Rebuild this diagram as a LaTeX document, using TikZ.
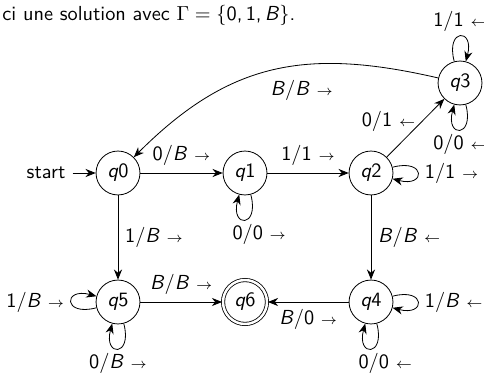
\documentclass[tikz,border=0pt]{standalone}
\renewcommand{\familydefault}{\sfdefault}
\usetikzlibrary{arrows.meta,automata,positioning}
\newcommand{\Bi}{\textit{B}}
\newcommand{\rgt}{$\scriptstyle\rightarrow$}
\newcommand{\lft}{$\scriptstyle\leftarrow$}
\begin{document}
\begin{tikzpicture}[x=0.01731cm,y=0.01731cm,>={Stealth[length=5pt,width=4pt]},
 st/.style={state,draw=black,minimum size=0.76cm,inner sep=0pt,font=\itshape},
 acc/.style={st,accepting,double distance=1.2pt},
 arr/.style={->,draw=black,thin},
 every loop/.style={->,min distance=6mm,looseness=6},
 initial text=start]
\useasboundingbox (0,0) rectangle (484,374);
\node[anchor=west,inner sep=0pt] (title) at (2,359) {ci une solution avec $\Gamma = \{$0,\,1,\,\Bi$\}$.};
\node[st,initial,initial distance=4mm] (q0) at (118,201) {q\textup{0}};
\node[st] (q1) at (245,201) {q\textup{1}};
\node[st] (q2) at (371,201) {q\textup{2}};
\node[st] (q3) at (460,291) {q\textup{3}};
\node[st] (q4) at (371,72) {q\textup{4}};
\node[st] (q5) at (118,72) {q\textup{5}};
\node[acc] (q6) at (245,72) {q\textup{6}};
\draw[arr] (q0) -- node[above] {0/\Bi\ \rgt} (q1);
\draw[arr] (q1) -- node[above] {1/1 \rgt} (q2);
\draw[arr] (q1) edge[loop below] node[below,xshift=7pt,inner sep=2pt] {0/0 \rgt} (q1);
\draw[arr] (q2) edge[loop right] node[right] {1/1 \rgt} (q2);
\draw[arr] (q2) -- node[left,pos=.62] {0/1 \lft} (q3);
\draw[arr] (q3) edge[loop above] node[above,inner sep=2pt] {1/1 \lft} (q3);
\draw[arr] (q3) edge[loop below] node[below,inner sep=2pt] {0/0 \lft} (q3);
\draw[arr] (q3) to[out=167,in=45,looseness=1.1] node[below=4pt,pos=.4] {\Bi/\Bi\ \rgt} (q0);
\draw[arr] (q0) -- node[right] {1/\Bi\ \rgt} (q5);
\draw[arr] (q2) -- node[right] {\Bi/\Bi\ \lft} (q4);
\draw[arr] (q5) edge[loop left] node[left] {1/\Bi\ \rgt} (q5);
\draw[arr] (q5) edge[loop below] node[below,inner sep=2pt] {0/\Bi\ \rgt} (q5);
\draw[arr] (q5) -- node[above] {\Bi/\Bi\ \rgt} (q6);
\draw[arr] (q4) -- node[below] {\Bi/0 \rgt} (q6);
\draw[arr] (q4) edge[loop right] node[right] {1/\Bi\ \lft} (q4);
\draw[arr] (q4) edge[loop below] node[below,xshift=7pt,inner sep=2pt] {0/0 \lft} (q4);
\end{tikzpicture}
\end{document}
